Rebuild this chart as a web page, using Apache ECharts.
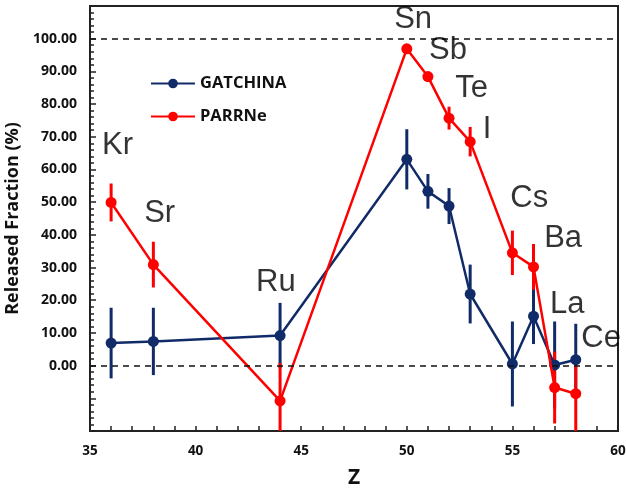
<!DOCTYPE html>
<html>
<head>
<meta charset="utf-8">
<script src="https://cdn.jsdelivr.net/npm/echarts@6/dist/echarts.min.js"></script>
<style>
  html, body { margin: 0; padding: 0; background: #fff; }
  #chart { width: 626px; height: 492px; }
</style>
</head>
<body>
<div id="chart"></div>
<script>
  // atomic number (Z) of each element
  var zValues = [36, 38, 44, 50, 51, 52, 53, 55, 56, 57, 58];
  var elements = ['Kr', 'Sr', 'Ru', 'Sn', 'Sb', 'Te', 'I', 'Cs', 'Ba', 'La', 'Ce'];

  // GATCHINA released fraction and error
  var gatchina = [6.9, 7.4, 9.2, 63.1, 53.3, 48.8, 21.9, 0.5, 15.1, 0.2, 1.8];
  var gatchinaErr = [10.8, 10.3, 10, 9.2, 5.3, 5.5, 9, 13, 8.5, 13.3, 11];

  // PARRNe released fraction and error
  var parrne = [49.9, 30.9, -10.8, 96.9, 88.4, 75.7, 68.5, 34.5, 30.2, -6.7, -8.6];
  var parrneErr = [5.8, 7, 11.6, 1, 1.5, 3.5, 4.5, 6.8, 7, 11, 11.5];

  // where the element names sit (Z, fraction)
  var labelX = [36.3, 38.3, 43.8, 50.3, 51.95, 53.07, 53.8, 55.8, 57.4, 57.6, 59.2];
  var labelY = [67.3, 46.5, 25.5, 105.9, 96.4, 84.8, 72.2, 51.1, 38.9, 18.6, 8.2];

  var navy = '#112a68';
  var red = '#ff0000';

  function pts(vals) {
    return zValues.map(function (z, i) { return [z, vals[i]]; });
  }
  function errPts(vals, errs) {
    return zValues.map(function (z, i) { return [z, vals[i], errs[i]]; });
  }
  // vertical error bar, no caps
  function errorBars(color) {
    return function (params, api) {
      var x = api.value(0), y = api.value(1), e = api.value(2);
      var top = api.coord([x, y + e]);
      var bot = api.coord([x, y - e]);
      return {
        type: 'line',
        shape: { x1: top[0], y1: top[1], x2: bot[0], y2: bot[1] },
        style: { stroke: color, lineWidth: 3 }
      };
    };
  }

  var labelData = elements.map(function (n, i) {
    return { name: n, value: [labelX[i], labelY[i]] };
  });

  var myChart = echarts.init(document.getElementById('chart'));
  myChart.setOption({
    backgroundColor: '#fff',
    animation: false,
    grid: {
      left: 90, right: 8, top: 6, bottom: 61,
      outerBoundsMode: 'none', containLabel: false,
      show: true, borderColor: '#222', borderWidth: 2
    },
    legend: {
      orient: 'vertical',
      left: 145, top: 70,
      itemWidth: 44, itemHeight: 12, itemGap: 16,
      data: ['GATCHINA', 'PARRNe'],
      textStyle: { fontFamily: 'Open Sans', fontWeight: 'bold', fontSize: 16.5, color: '#111' }
    },
    xAxis: {
      type: 'value', min: 35, max: 60, interval: 5,
      name: 'Z', nameLocation: 'middle', nameGap: 37,
      nameTextStyle: { fontFamily: 'Open Sans', fontWeight: 'bold', fontSize: 21, color: '#111' },
      axisLine: { onZero: false, lineStyle: { color: '#222', width: 2 } },
      axisTick: { inside: true, length: 5, lineStyle: { color: '#222', width: 1.5 } },
      minorTick: { show: true, splitNumber: 5, length: 5, lineStyle: { color: '#222', width: 1.5 } },
      splitLine: { show: false },
      axisLabel: { margin: 13, fontFamily: 'Open Sans', fontWeight: 'bold', fontSize: 13.5, color: '#111' }
    },
    yAxis: {
      type: 'value', min: -20, max: 110, interval: 10,
      name: 'Released Fraction (%)', nameLocation: 'middle', nameGap: 57,
      nameTextStyle: { fontFamily: 'Open Sans', fontWeight: 'bold', fontSize: 18, color: '#111' },
      axisLine: { onZero: false, lineStyle: { color: '#222', width: 2 } },
      axisTick: { inside: true, length: 6, lineStyle: { color: '#222', width: 1.5 } },
      minorTick: { show: true, splitNumber: 5, length: 4, lineStyle: { color: '#222', width: 1.5 } },
      splitLine: { show: false },
      axisLabel: {
        margin: 13, fontFamily: 'Open Sans', fontWeight: 'bold', fontSize: 14, color: '#111',
        formatter: function (v) { return (v >= 0 && v <= 100) ? v.toFixed(2) : ''; }
      }
    },
    series: [
      {
        name: 'GATCHINA err', type: 'custom', renderItem: errorBars(navy),
        data: errPts(gatchina, gatchinaErr), clip: true, silent: true, z: 2
      },
      {
        name: 'PARRNe err', type: 'custom', renderItem: errorBars(red),
        data: errPts(parrne, parrneErr), clip: true, silent: true, z: 2
      },
      {
        name: 'GATCHINA', type: 'line', data: pts(gatchina),
        symbol: 'circle', symbolSize: 11, z: 3,
        itemStyle: { color: navy },
        lineStyle: { color: navy, width: 2.5 },
        markLine: {
          silent: true, symbol: 'none', label: { show: false },
          lineStyle: { color: '#111', type: [6, 5], width: 1.5 },
          data: [{ yAxis: 100 }, { yAxis: 0 }]
        }
      },
      {
        name: 'PARRNe', type: 'line', data: pts(parrne),
        symbol: 'circle', symbolSize: 11, z: 4,
        itemStyle: { color: red },
        lineStyle: { color: red, width: 2.5 }
      },
      {
        name: 'elements', type: 'scatter', data: labelData,
        symbolSize: 0, silent: true, z: 5,
        label: {
          show: true, position: 'inside', formatter: '{b}',
          fontFamily: 'Liberation Sans', fontSize: 31, color: '#000'
        }
      }
    ]
  });
</script>
</body>
</html>
